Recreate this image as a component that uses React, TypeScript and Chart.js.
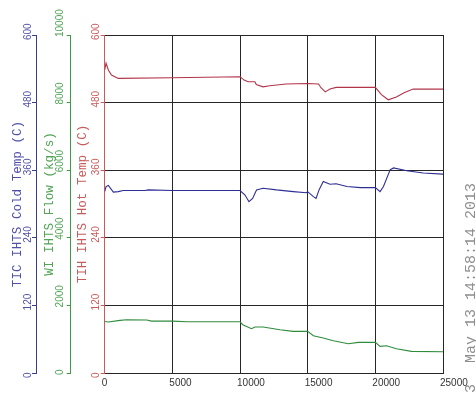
import { useEffect, useRef } from "react";
import { Chart, registerables } from "chart.js";

Chart.register(...registerables);

// ---- data ----
const xTicks = [0, 5000, 10000, 15000, 20000, 25000];

const hotTime = [0, 100, 270, 500, 1000, 5000, 10000, 10300, 10600, 11100, 11200, 11700, 12200, 13400, 15000, 15800, 16000, 16300, 16650, 17100, 20000, 20450, 20950, 21550, 22160, 22800, 25000];
const hotTemp = [538, 550, 538, 529, 523, 524, 526, 520, 517, 517, 512, 508, 510, 513, 514, 513, 506, 499, 504, 507, 507, 494, 485, 490, 498, 504, 504];

const coldTime = [0, 100, 270, 640, 1000, 1375, 3000, 3200, 5000, 10000, 10370, 10660, 10930, 11220, 11700, 12700, 13930, 14900, 15000, 15420, 15620, 15840, 16150, 16650, 17100, 17900, 18900, 20000, 20350, 20600, 21100, 21350, 22320, 23550, 25000];
const coldTemp = [322, 331, 333, 321, 322, 324, 324, 325, 324, 324, 316, 304, 310, 325, 328, 325, 322, 320, 322, 313, 310, 325, 340, 335, 336, 331, 329, 329, 322, 331, 361, 364, 359, 355, 353];

const flowTime = [0, 270, 1130, 1620, 3100, 3470, 5000, 6080, 10000, 10200, 10850, 11100, 11700, 12950, 13930, 15000, 15420, 16150, 16900, 18000, 18750, 20000, 20350, 20830, 21560, 22670, 25000];
const flowRate = [1526, 1507, 1556, 1576, 1566, 1536, 1536, 1517, 1517, 1428, 1310, 1360, 1360, 1280, 1231, 1231, 1103, 1035, 955, 866, 906, 906, 787, 807, 718, 640, 630];

const dateText = "May 13 14:58:14 2013";
const cutText = "3";

const BLUE_LINE = "#2e2e94";
const BLUE_AXIS = "#3c3c8e";
const BLUE_TEXT = "#5050a8";
const GREEN_LINE = "#2f8c3c";
const GREEN_AXIS = "#3f9a46";
const GREEN_TEXT = "#52a456";
const RED_LINE = "#b3344a";
const RED_AXIS = "#cc5a5a";
const RED_TEXT = "#c85c5c";
const GRID = "#262626";

const pts = (t: number[], v: number[]) => t.map((x, i) => ({ x, y: v[i] }));

function yAxis(
  color: string,
  textColor: string,
  title: string,
  max: number,
  step: number,
  weight: number,
  width: number,
  tickPad: number,
  labelShift: number,
  titlePad: number,
  onArea: boolean
) {
  return {
    type: "linear",
    position: "left",
    min: 0,
    max,
    weight,
    ticks: {
      stepSize: step,
      minRotation: 90,
      maxRotation: 90,
      mirror: true,
      crossAlign: "near",
      padding: tickPad,
      labelOffset: labelShift,
      color: textColor,
      font: { family: "Liberation Sans", size: 10 },
      callback: (v: any) => String(v),
    },
    grid: {
      drawOnChartArea: onArea,
      color: GRID,
      drawTicks: true,
      tickLength: 4,
      tickColor: color,
    },
    border: { color, width: 1 },
    title: {
      display: true,
      text: title,
      color: textColor,
      font: { family: "Liberation Mono", size: 12.6 },
      padding: { top: titlePad, bottom: 0 },
    },
    afterFit: (s: any) => {
      s.width = width;
    },
  };
}

const datePlugin = {
  id: "dateText",
  afterDraw(chart: any) {
    const ctx = chart.ctx;
    const draw = (text: string, y: number) => {
      ctx.save();
      ctx.fillStyle = "#8e8e8e";
      ctx.font = "15px 'Liberation Mono'";
      ctx.textBaseline = "middle";
      ctx.textAlign = "left";
      ctx.translate(471.5, y);
      ctx.rotate(-Math.PI / 2);
      ctx.fillText(text, 0, 0);
      ctx.restore();
    };
    draw(dateText, 363);
    draw(cutText, 393);
  },
};

export default function App() {
  const ref = useRef<HTMLCanvasElement>(null);

  useEffect(() => {
    document.body.style.margin = "0";
    const chart = new Chart(ref.current as HTMLCanvasElement, {
      type: "line",
      data: {
        datasets: [
          {
            label: "TIH IHTS Hot Temp (C)",
            data: pts(hotTime, hotTemp),
            yAxisID: "yR",
            borderColor: RED_LINE,
            borderWidth: 1.1,
            pointRadius: 0,
            tension: 0,
          },
          {
            label: "TIC IHTS Cold Temp (C)",
            data: pts(coldTime, coldTemp),
            yAxisID: "yB",
            borderColor: BLUE_LINE,
            borderWidth: 1.1,
            pointRadius: 0,
            tension: 0,
          },
          {
            label: "WI IHTS Flow (kg/s)",
            data: pts(flowTime, flowRate),
            yAxisID: "yG",
            borderColor: GREEN_LINE,
            borderWidth: 1.1,
            pointRadius: 0,
            tension: 0,
          },
        ],
      },
      options: {
        animation: false,
        responsive: true,
        maintainAspectRatio: false,
        layout: { padding: { left: 2, top: 35, right: 33, bottom: 0 } },
        plugins: { legend: { display: false }, tooltip: { enabled: false } },
        scales: {
          x: {
            type: "linear",
            min: 0,
            max: 25000,
            afterBuildTicks: (s: any) => {
              s.ticks = xTicks.map((value) => ({ value }));
            },
            ticks: {
              autoSkip: false,
              maxRotation: 0,
              align: "start",
              labelOffset: -3,
              padding: 4,
              color: "#333",
              font: { family: "Liberation Sans", size: 10 },
              callback: (v: any) => String(v),
            },
            grid: {
              drawTicks: false,
              color: (c: any) => (c.tick && c.tick.value === 0 ? "rgba(0,0,0,0)" : GRID),
            },
            border: { color: GRID, width: 1 },
            afterFit: (s: any) => {
              s.height = 20;
            },
          },
          yB: yAxis(BLUE_AXIS, BLUE_TEXT, "TIC IHTS Cold Temp (C)", 600, 120, 3, 34, -8, 5, 8.4, false),
          yG: yAxis(GREEN_AXIS, GREEN_TEXT, "WI IHTS Flow (kg/s)", 10000, 2000, 2, 34.7, -10.7, 2, 5.7, false),
          yR: yAxis(RED_AXIS, RED_TEXT, "TIH IHTS Hot Temp (C)", 600, 120, 1, 34, -8.7, 5, 4.7, true),
        } as any,
      },
      plugins: [datePlugin],
    } as any);
    return () => chart.destroy();
  }, []);

  return (
    <div style={{ position: "fixed", left: 0, top: 0, width: 476, height: 393, background: "#fff" }}>
      <canvas ref={ref} />
    </div>
  );
}
